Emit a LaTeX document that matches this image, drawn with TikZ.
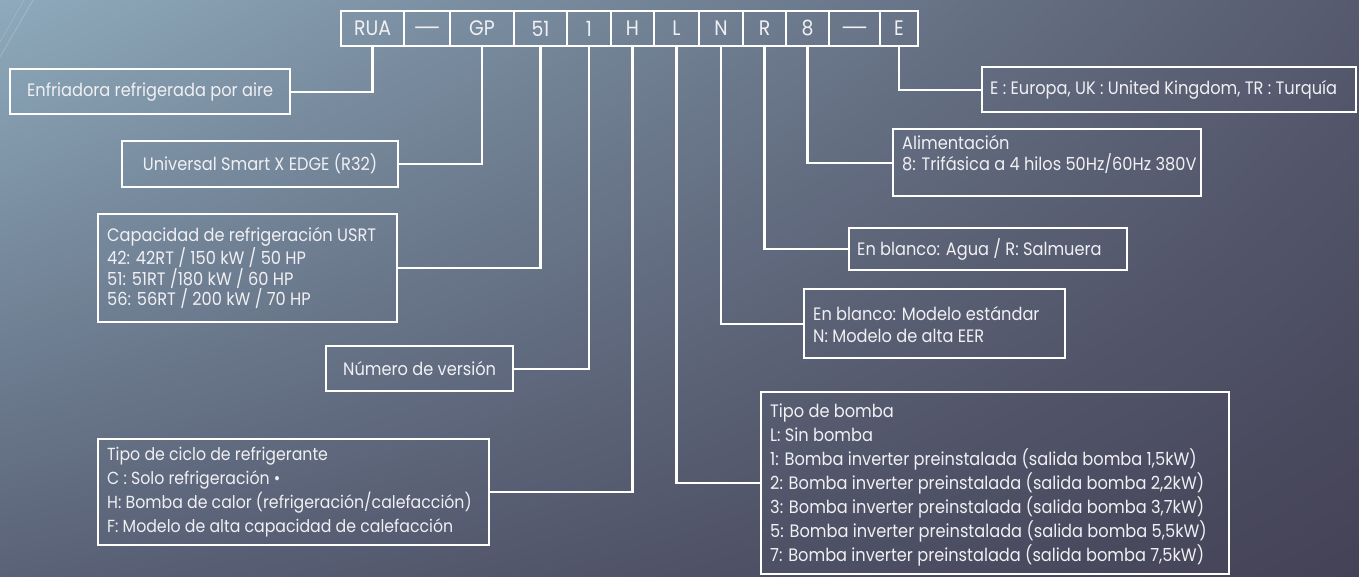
\documentclass[tikz,border=0pt]{standalone}
\usepackage{fontspec}
\usepackage{graphicx}
\setmainfont{Poppins}[FakeStretch=0.9]
\usetikzlibrary{calc,shadings}
\definecolor{bgTL}{HTML}{8EAABC}
\definecolor{bgTR}{HTML}{565A6E}
\definecolor{bgBL}{HTML}{5A6277}
\definecolor{bgBR}{HTML}{444257}
\definecolor{txtc}{HTML}{F0F0F4}
\newcommand{\longdash}{\vphantom{RUA}\raisebox{0pt}[0pt][0pt]{\scalebox{1.7}[1]{—}}}
\begin{document}
\begin{tikzpicture}[x=1pt,y=-1pt,
  codebox/.style={draw=white, line width=2pt, minimum height=35pt, inner sep=0pt, anchor=north west, text=txtc, font=\fontsize{21}{22}\selectfont},
  infobox/.style={draw=white, line width=2.2pt, anchor=north west, inner sep=0pt},
  txt/.style={text=txtc, inner sep=0pt, align=left, anchor=west, font=\fontsize{18}{21}\selectfont},
  ctxt/.style={text=txtc, inner sep=0pt, align=center, font=\fontsize{18}{21}\selectfont},
  link/.style={draw=white, line width=2.2pt}]
\shade[upper left=bgTL, upper right=bgTR, lower left=bgBL, lower right=bgBR] (0,0) rectangle (1359,576);
\useasboundingbox (0,0) rectangle (1359,576);
\draw[white, opacity=0.25, line width=0.6pt] (0,57) -- (33,0);
\draw[white, opacity=0.18, line width=0.6pt] (0,42) -- (24,0);
% code boxes
\node[codebox, minimum width=63pt] (rua) at (340,10) {RUA};
\node[codebox, minimum width=46pt] (dasha) at (403,10) {\longdash};
\node[codebox, minimum width=64pt] (gp) at (449,10) {GP};
\node[codebox, minimum width=53pt] (c51) at (513,10) {51};
\node[codebox, minimum width=44pt] (c1) at (566,10) {1};
\node[codebox, minimum width=43pt] (cH) at (610,10) {H};
\node[codebox, minimum width=45pt] (cL) at (653,10) {L};
\node[codebox, minimum width=44pt] (cN) at (698,10) {N};
\node[codebox, minimum width=43pt] (cR) at (742,10) {R};
\node[codebox, minimum width=43pt] (c8) at (785,10) {8};
\node[codebox, minimum width=51pt] (dashb) at (828,10) {\longdash};
\node[codebox, minimum width=38pt] (cE) at (879,10) {E};
% info boxes
\node[infobox, minimum width=280pt, minimum height=45pt] (b1) at (9,68) {};
\node[ctxt] (t1) at (b1.center) {Enfriadora refrigerada por aire};
\node[infobox, minimum width=276pt, minimum height=46pt] (b2) at (121,140) {};
\node[ctxt] (t2) at (b2.center) {Universal Smart X EDGE (R32)};
\node[infobox, minimum width=299pt, minimum height=108pt] (b3) at (97,213) {};
\node[txt, font=\fontsize{18}{20.7}\selectfont] (t3) at ($(b3.west)+(10,0)$) {Capacidad de refrigeración USRT\\42: 42RT / 150 kW / 50 HP\\51: 51RT /180 kW / 60 HP\\56: 56RT / 200 kW / 70 HP};
\node[infobox, minimum width=187pt, minimum height=45pt] (b4) at (325,345) {};
\node[ctxt] (t4) at (b4.center) {Número de versión};
\node[infobox, minimum width=391pt, minimum height=106pt] (b5) at (97,438) {};
\node[txt, font=\fontsize{17.5}{24.3}\selectfont] (t5) at ($(b5.west)+(10,0)$) {Tipo de ciclo de refrigerante\\C : Solo refrigeración •\\H: Bomba de calor (refrigeración/calefacción)\\F: Modelo de alta capacidad de calefacción};
\node[infobox, minimum width=374pt, minimum height=45pt] (bE) at (981,66) {};
\node[txt] (tE) at ($(bE.west)+(9,0)$) {E : Europa, UK : United Kingdom, TR : Turquía};
\node[infobox, minimum width=308pt, minimum height=67pt] (bAl) at (892,128) {};
\node[txt] (tAl) at ($(bAl.west)+(10,-8)$) {Alimentación\\8: Trifásica a 4 hilos 50Hz/60Hz 380V};
\node[infobox, minimum width=278pt, minimum height=42pt] (bAg) at (848,227) {};
\node[txt] (tAg) at ($(bAg.west)+(9,0)$) {En blanco: Agua / R: Salmuera};
\node[infobox, minimum width=261pt, minimum height=69pt] (bMo) at (803,288) {};
\node[txt, font=\fontsize{18}{22}\selectfont] (tMo) at ($(bMo.west)+(10,1)$) {En blanco: Modelo estándar\\N: Modelo de alta EER};
\node[infobox, minimum width=468pt, minimum height=182pt] (bBo) at (760,391) {};
\node[txt, font=\fontsize{18}{24}\selectfont] (tBo) at ($(bBo.west)+(10,2)$) {Tipo de bomba\\L: Sin bomba\\1: Bomba inverter preinstalada (salida bomba 1,5kW)\\2: Bomba inverter preinstalada (salida bomba 2,2kW)\\3: Bomba inverter preinstalada (salida bomba 3,7kW)\\5: Bomba inverter preinstalada (salida bomba 5,5kW)\\7: Bomba inverter preinstalada (salida bomba 7,5kW)};
% connectors
\draw[link] (rua.south) |- (b1.east);
\draw[link] (gp.south) |- (b2.east);
\draw[link] (c51.south) |- (b3.east);
\draw[link] (c1.south) |- (b4.east);
\draw[link] (cH.south) |- (b5.east);
\draw[link] (cL.south) |- (bBo.west);
\draw[link] (cN.south) |- (bMo.west);
\draw[link] (cR.south) |- (bAg.west);
\draw[link] (c8.south) |- (bAl.west);
\draw[link] (cE.south) |- (bE.west);
\end{tikzpicture}
\end{document}
